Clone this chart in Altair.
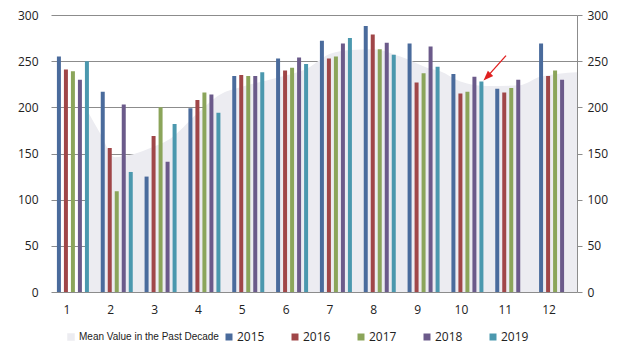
import altair as alt
import pandas as pd

# ---- data ----
months = list(range(1, 13))
years = ["2015", "2016", "2017", "2018", "2019"]
v2015 = [255, 217, 125, 199, 234, 253, 272, 288, 269, 236, 220, 269]
v2016 = [241, 156, 169, 208, 235, 240, 253, 279, 227, 215, 216, 234]
v2017 = [239, 109, 200, 216, 234, 243, 255, 263, 237, 217, 221, 240]
v2018 = [230, 203, 141, 214, 234, 254, 269, 270, 266, 233, 230, 230]
v2019 = [250, 130, 182, 194, 238, 247, 275, 257, 244, 228, None, None]

mean_label = "Mean Value in the Past Decade"
mean_pos = [1.32, 1.62, 1.96, 2.26, 2.71, 3.22, 3.83, 4.36, 4.84, 5.66, 6.34,
            6.87, 7.33, 7.85, 8.47, 9.08, 9.38, 9.84, 10.45, 11.2, 11.66, 12.5]
mean_val = [197, 172, 146, 148, 155, 166, 193, 214, 222, 232, 242,
            258, 262, 263, 255, 243, 239, 228, 223, 224, 233, 238]

# red annotation arrow pointing at the October 2019 bar (month units, value units)
arrow_tail = [10.88, 256]
arrow_head = [10.447, 233]

year_colors = ["#4a6b9c", "#a04648", "#8ba55a", "#6b5a8a", "#4b98ae"]
mean_color = "#ececf1"
grid_color = "#8c8c8c"
arrow_color = "#e02020"
y_ticks = [0, 50, 100, 150, 200, 250, 300]

rows = []
for y, vals in zip(years, [v2015, v2016, v2017, v2018, v2019]):
    for m, v in zip(months, vals):
        if v is not None:
            rows.append({"month": m, "year": y, "value": v})
bars_df = pd.DataFrame(rows)
area_df = pd.DataFrame({"pos": mean_pos, "mean": mean_val, "series": mean_label})
arrow_line_df = pd.DataFrame({"x": [arrow_tail[0]], "y": [arrow_tail[1]],
                              "x2": [arrow_head[0]], "y2": [arrow_head[1]]})
arrow_head_df = pd.DataFrame({"x": [arrow_head[0]], "y": [arrow_head[1]]})

yscale = alt.Scale(domain=[0, 300], nice=False)
pos_scale = alt.Scale(domain=[0.5, 12.5], nice=False, zero=False)

area = alt.Chart(area_df).mark_area(interpolate="monotone").encode(
    x=alt.X("pos:Q", scale=pos_scale, axis=None),
    y=alt.Y("mean:Q", scale=yscale, axis=None),
    color=alt.Color("series:N", scale=alt.Scale(domain=[mean_label], range=[mean_color]),
                    legend=alt.Legend(orient="none", legendX=15, legendY=317, title=None,
                                      symbolType="square", symbolSize=56, symbolStrokeWidth=0,
                                      labelFont="Liberation Sans", labelFontSize=10,
                                      labelColor="#222222", labelOffset=3, padding=0)),
)

bars = alt.Chart(bars_df).mark_bar().encode(
    x=alt.X("month:O", scale=alt.Scale(paddingInner=0.27, paddingOuter=0.135),
            axis=alt.Axis(title=None, labelAngle=0, domain=False, ticks=False,
                          labelPadding=12, labelOffset=-6, labelFont="Open Sans",
                          labelFontSize=12, labelColor="#222222")),
    xOffset=alt.XOffset("year:N", scale=alt.Scale(domain=years, paddingInner=0.43, paddingOuter=0)),
    y=alt.Y("value:Q", scale=yscale,
            axis=alt.Axis(orient="left", title=None, values=y_ticks, grid=True,
                          gridColor=grid_color, gridWidth=1, domain=False, ticks=False,
                          labelPadding=13, labelFont="Open Sans", labelFontSize=12,
                          labelColor="#222222")),
    color=alt.Color("year:N", scale=alt.Scale(domain=years, range=year_colors),
                    legend=alt.Legend(orient="none", legendX=172, legendY=316, title=None,
                                      direction="horizontal", columns=5, columnPadding=24,
                                      symbolType="square", symbolSize=49, symbolStrokeWidth=0,
                                      labelFont="Open Sans", labelFontSize=12,
                                      labelColor="#222222", labelOffset=2, padding=0)),
)

right_axis = alt.Chart(bars_df).mark_point(opacity=0).encode(
    y=alt.Y("value:Q", scale=yscale,
            axis=alt.Axis(orient="right", title=None, values=y_ticks, grid=False,
                          domain=True, domainColor=grid_color, ticks=True, tickSize=5,
                          tickColor=grid_color, labelPadding=5, labelFont="Open Sans",
                          labelFontSize=12, labelColor="#222222")),
)

arrow_line = alt.Chart(arrow_line_df).mark_rule(color=arrow_color, strokeWidth=1.3).encode(
    x=alt.X("x:Q", scale=pos_scale, axis=None),
    x2="x2:Q",
    y=alt.Y("y:Q", scale=yscale, axis=None),
    y2="y2:Q",
)

arrow_tip = alt.Chart(arrow_head_df).mark_point(
    shape="M0,-1L0.75,1L-0.75,1Z", filled=True, opacity=1, color=arrow_color,
    size=100, angle=225, strokeWidth=0,
).encode(
    x=alt.X("x:Q", scale=pos_scale, axis=None),
    y=alt.Y("y:Q", scale=yscale, axis=None),
)

chart = alt.layer(area, bars, right_axis, arrow_line, arrow_tip).resolve_scale(
    x="independent", color="independent"
).resolve_axis(y="independent").properties(
    width=526, height=277,
    padding={"left": 43, "top": 7, "right": 49, "bottom": 63},
    autosize=alt.AutoSizeParams(type="none"),
    background="white",
).configure_view(stroke=None)

chart.save("out.html", embed_options={"renderer": "svg", "actions": False})
